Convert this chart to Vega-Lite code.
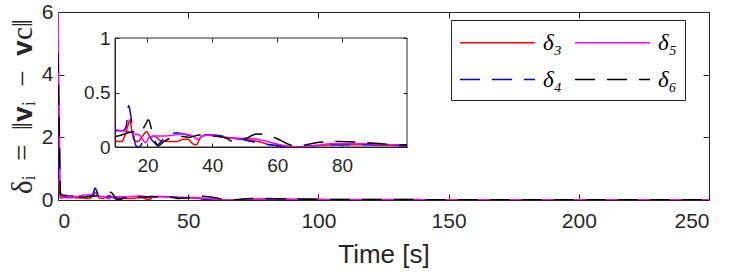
{
  "$schema": "https://vega.github.io/schema/vega-lite/v6.json",
  "width": 651,
  "height": 188,
  "autosize": {"type": "none"},
  "padding": {"left": 58, "top": 12, "right": 22, "bottom": 72},
  "background": "white",
  "config": {
    "view": {"stroke": "#262626", "strokeWidth": 1},
    "axis": {"grid": false, "domainColor": "#262626", "tickColor": "#262626", "labelColor": "#262626", "titleColor": "#262626", "labelFont": "Liberation Sans", "titleFont": "Liberation Sans", "titleFontWeight": "normal"},
    "legend": {"orient": "none", "legendX": 393, "legendY": 8, "columns": 2, "symbolType": "M-1,0H4.556", "symbolSize": 729, "symbolStrokeWidth": 1.5, "labelFont": "Liberation Serif", "labelFontSize": 23, "labelFontStyle": "italic", "labelColor": "black", "strokeColor": "#262626", "fillColor": "white", "padding": 8, "rowPadding": 10, "columnPadding": 10, "labelOffset": 55, "title": null}
  },
  "datasets": {
    "d": [
      {"s": "δ₃", "t": 0, "v": 1.0}, {"s": "δ₃", "t": 0.5, "v": 0.4}, {"s": "δ₃", "t": 1, "v": 0.06}, {"s": "δ₃", "t": 2, "v": 0.08}, {"s": "δ₃", "t": 4, "v": 0.07}, {"s": "δ₃", "t": 6, "v": 0.08}, {"s": "δ₃", "t": 8, "v": 0.06}, {"s": "δ₃", "t": 10, "v": 0.06}, {"s": "δ₃", "t": 11, "v": 0.05}, {"s": "δ₃", "t": 12, "v": 0.05}, {"s": "δ₃", "t": 13, "v": 0.1}, {"s": "δ₃", "t": 14, "v": 0.2}, {"s": "δ₃", "t": 14.6, "v": 0.25}, {"s": "δ₃", "t": 15.2, "v": 0.15}, {"s": "δ₃", "t": 15.8, "v": 0.07}, {"s": "δ₃", "t": 17, "v": 0.05}, {"s": "δ₃", "t": 18.5, "v": 0.1}, {"s": "δ₃", "t": 19.7, "v": 0.14}, {"s": "δ₃", "t": 21, "v": 0.09}, {"s": "δ₃", "t": 22, "v": 0.1}, {"s": "δ₃", "t": 24, "v": 0.06}, {"s": "δ₃", "t": 27, "v": 0.05}, {"s": "δ₃", "t": 29, "v": 0.05}, {"s": "δ₃", "t": 31, "v": 0.07}, {"s": "δ₃", "t": 32.5, "v": 0.07}, {"s": "δ₃", "t": 34, "v": 0.03}, {"s": "δ₃", "t": 35, "v": 0.02}, {"s": "δ₃", "t": 36.5, "v": 0.09}, {"s": "δ₃", "t": 38, "v": 0.11}, {"s": "δ₃", "t": 41, "v": 0.1}, {"s": "δ₃", "t": 44, "v": 0.09}, {"s": "δ₃", "t": 47, "v": 0.08}, {"s": "δ₃", "t": 50, "v": 0.07}, {"s": "δ₃", "t": 54, "v": 0.05}, {"s": "δ₃", "t": 58, "v": 0.02}, {"s": "δ₃", "t": 62, "v": 0.01}, {"s": "δ₃", "t": 66, "v": 0.0}, {"s": "δ₃", "t": 71, "v": 0.01}, {"s": "δ₃", "t": 77, "v": 0.02}, {"s": "δ₃", "t": 87, "v": 0.02}, {"s": "δ₃", "t": 95, "v": 0.015}, {"s": "δ₃", "t": 100, "v": 0.01}, {"s": "δ₃", "t": 150, "v": 0.005}, {"s": "δ₃", "t": 250, "v": 0.0},
      {"s": "δ₄", "t": 0, "v": 1.3}, {"s": "δ₄", "t": 0.5, "v": 0.5}, {"s": "δ₄", "t": 1, "v": 0.1}, {"s": "δ₄", "t": 2, "v": 0.12}, {"s": "δ₄", "t": 4, "v": 0.13}, {"s": "δ₄", "t": 6, "v": 0.12}, {"s": "δ₄", "t": 8, "v": 0.13}, {"s": "δ₄", "t": 10, "v": 0.15}, {"s": "δ₄", "t": 11, "v": 0.15}, {"s": "δ₄", "t": 12.5, "v": 0.15}, {"s": "δ₄", "t": 13.5, "v": 0.2}, {"s": "δ₄", "t": 14.2, "v": 0.38}, {"s": "δ₄", "t": 14.8, "v": 0.3}, {"s": "δ₄", "t": 15.5, "v": 0.15}, {"s": "δ₄", "t": 16.5, "v": 0.01}, {"s": "δ₄", "t": 17.5, "v": 0.0}, {"s": "δ₄", "t": 19, "v": 0.08}, {"s": "δ₄", "t": 20, "v": 0.11}, {"s": "δ₄", "t": 21.5, "v": 0.06}, {"s": "δ₄", "t": 23, "v": 0.02}, {"s": "δ₄", "t": 25, "v": 0.08}, {"s": "δ₄", "t": 27, "v": 0.12}, {"s": "δ₄", "t": 29, "v": 0.13}, {"s": "δ₄", "t": 31, "v": 0.12}, {"s": "δ₄", "t": 34, "v": 0.1}, {"s": "δ₄", "t": 36, "v": 0.08}, {"s": "δ₄", "t": 38, "v": 0.11}, {"s": "δ₄", "t": 40, "v": 0.11}, {"s": "δ₄", "t": 43, "v": 0.1}, {"s": "δ₄", "t": 46, "v": 0.08}, {"s": "δ₄", "t": 49, "v": 0.07}, {"s": "δ₄", "t": 52, "v": 0.05}, {"s": "δ₄", "t": 55, "v": 0.03}, {"s": "δ₄", "t": 58, "v": 0.02}, {"s": "δ₄", "t": 61, "v": 0.01}, {"s": "δ₄", "t": 65, "v": 0.0}, {"s": "δ₄", "t": 70, "v": 0.01}, {"s": "δ₄", "t": 76, "v": 0.02}, {"s": "δ₄", "t": 85, "v": 0.02}, {"s": "δ₄", "t": 95, "v": 0.02}, {"s": "δ₄", "t": 100, "v": 0.01}, {"s": "δ₄", "t": 150, "v": 0.005}, {"s": "δ₄", "t": 250, "v": 0.0},
      {"s": "δ₅", "t": 0, "v": 6.0}, {"s": "δ₅", "t": 0.5, "v": 2.5}, {"s": "δ₅", "t": 1, "v": 0.1}, {"s": "δ₅", "t": 2, "v": 0.1}, {"s": "δ₅", "t": 4, "v": 0.09}, {"s": "δ₅", "t": 6, "v": 0.1}, {"s": "δ₅", "t": 8, "v": 0.12}, {"s": "δ₅", "t": 10, "v": 0.16}, {"s": "δ₅", "t": 12, "v": 0.15}, {"s": "δ₅", "t": 14, "v": 0.14}, {"s": "δ₅", "t": 16, "v": 0.12}, {"s": "δ₅", "t": 17.5, "v": 0.11}, {"s": "δ₅", "t": 18.5, "v": 0.07}, {"s": "δ₅", "t": 19.5, "v": 0.04}, {"s": "δ₅", "t": 20.5, "v": 0.09}, {"s": "δ₅", "t": 22, "v": 0.1}, {"s": "δ₅", "t": 25, "v": 0.1}, {"s": "δ₅", "t": 28, "v": 0.11}, {"s": "δ₅", "t": 31, "v": 0.12}, {"s": "δ₅", "t": 34, "v": 0.1}, {"s": "δ₅", "t": 35.5, "v": 0.07}, {"s": "δ₅", "t": 37, "v": 0.1}, {"s": "δ₅", "t": 40, "v": 0.11}, {"s": "δ₅", "t": 43, "v": 0.09}, {"s": "δ₅", "t": 46, "v": 0.08}, {"s": "δ₅", "t": 50, "v": 0.08}, {"s": "δ₅", "t": 54, "v": 0.07}, {"s": "δ₅", "t": 57, "v": 0.05}, {"s": "δ₅", "t": 61, "v": 0.02}, {"s": "δ₅", "t": 66, "v": 0.0}, {"s": "δ₅", "t": 71, "v": 0.01}, {"s": "δ₅", "t": 77, "v": 0.03}, {"s": "δ₅", "t": 87, "v": 0.03}, {"s": "δ₅", "t": 95, "v": 0.02}, {"s": "δ₅", "t": 100, "v": 0.02}, {"s": "δ₅", "t": 150, "v": 0.01}, {"s": "δ₅", "t": 250, "v": 0.005},
      {"s": "δ₆", "t": 0, "v": 4.7}, {"s": "δ₆", "t": 0.5, "v": 2.0}, {"s": "δ₆", "t": 1, "v": 0.2}, {"s": "δ₆", "t": 2, "v": 0.15}, {"s": "δ₆", "t": 4, "v": 0.14}, {"s": "δ₆", "t": 6, "v": 0.13}, {"s": "δ₆", "t": 8, "v": 0.1}, {"s": "δ₆", "t": 10, "v": 0.095}, {"s": "δ₆", "t": 12, "v": 0.11}, {"s": "δ₆", "t": 14, "v": 0.13}, {"s": "δ₆", "t": 15.6, "v": 0.14}, {"s": "δ₆", "t": 17, "v": 0.12}, {"s": "δ₆", "t": 18.5, "v": 0.16}, {"s": "δ₆", "t": 19.3, "v": 0.2}, {"s": "δ₆", "t": 20.3, "v": 0.25}, {"s": "δ₆", "t": 21.6, "v": 0.12}, {"s": "δ₆", "t": 23.3, "v": 0.01}, {"s": "δ₆", "t": 25, "v": 0.05}, {"s": "δ₆", "t": 27, "v": 0.08}, {"s": "δ₆", "t": 30, "v": 0.1}, {"s": "δ₆", "t": 33, "v": 0.09}, {"s": "δ₆", "t": 36, "v": 0.11}, {"s": "δ₆", "t": 41, "v": 0.1}, {"s": "δ₆", "t": 44.4, "v": 0.08}, {"s": "δ₆", "t": 46.4, "v": 0.05}, {"s": "δ₆", "t": 48.5, "v": 0.06}, {"s": "δ₆", "t": 50.5, "v": 0.08}, {"s": "δ₆", "t": 53.6, "v": 0.12}, {"s": "δ₆", "t": 56.7, "v": 0.11}, {"s": "δ₆", "t": 59.7, "v": 0.08}, {"s": "δ₆", "t": 63.8, "v": 0.02}, {"s": "δ₆", "t": 66, "v": 0.0}, {"s": "δ₆", "t": 69, "v": 0.02}, {"s": "δ₆", "t": 72, "v": 0.04}, {"s": "δ₆", "t": 79, "v": 0.05}, {"s": "δ₆", "t": 87, "v": 0.04}, {"s": "δ₆", "t": 97.7, "v": 0.02}, {"s": "δ₆", "t": 100, "v": 0.02}, {"s": "δ₆", "t": 150, "v": 0.01}, {"s": "δ₆", "t": 250, "v": 0.005}
    ]
  },
  "layer": [
    {
      "data": {"name": "d"},
      "mark": {"type": "line", "strokeWidth": 1.5, "interpolate": "monotone", "clip": true},
      "encoding": {
        "x": {"field": "t", "type": "quantitative", "scale": {"domain": [0, 250], "nice": false, "zero": false},
          "axis": {"orient": "bottom", "values": [0, 50, 100, 150, 200, 250], "tickSize": -6, "labelFontSize": 21, "labelPadding": 16, "title": "Time [s]", "titleFontSize": 26, "titleBaseline": "alphabetic", "titleY": 62, "titleX": 325.5, "titleAlign": "center"}},
        "y": {"field": "v", "type": "quantitative", "scale": {"domain": [0, 6], "nice": false},
          "axis": {"orient": "left", "values": [0, 2, 4, 6], "tickSize": -6, "labelFontSize": 21, "labelPadding": 11, "title": "δᵢ\u2002=\u2002‖𝐯ᵢ\u2002−\u2002𝐯c‖", "titleFont": "Liberation Serif", "titleFontSize": 29, "titleAngle": -90, "titleBaseline": "middle", "titleAlign": "center", "titleX": -36, "titleY": 94}},
        "color": {"field": "s", "type": "nominal", "scale": {"domain": ["δ₃", "δ₄", "δ₅", "δ₆"], "range": ["#FF0000", "#0000FF", "#FF00FF", "#000000"]}, "legend": {"title": null, "values": ["δ₃", "δ₄", "δ₅", "δ₆"]}},
        "strokeDash": {"field": "s", "type": "nominal", "scale": {"domain": ["δ₃", "δ₄", "δ₅", "δ₆"], "range": [[1, 0], [20, 12], [1, 0], [20, 12]]}, "legend": {"title": null, "values": ["δ₃", "δ₄", "δ₅", "δ₆"]}}
      }
    },
    {
      "data": {"values": [{}]},
      "mark": {"type": "point", "opacity": 0},
      "encoding": {
        "x": {"datum": 0, "type": "quantitative", "scale": {"domain": [0, 250], "nice": false, "zero": false},
          "axis": {"orient": "top", "values": [0, 50, 100, 150, 200, 250], "labels": false, "domain": false, "tickSize": -6, "title": null}},
        "y": {"datum": 0, "type": "quantitative", "scale": {"domain": [0, 6], "nice": false},
          "axis": {"orient": "right", "values": [0, 2, 4, 6], "labels": false, "domain": false, "tickSize": -6, "title": null}}
      }
    },
    {
      "layer": [
        {
          "data": {"values": [{}]},
          "mark": {"type": "rect", "fill": "white", "stroke": "#262626", "strokeWidth": 1},
          "encoding": {
            "x": {"datum": 10, "type": "quantitative", "scale": {"domain": [10, 100], "range": [57, 349], "nice": false, "zero": false},
              "axis": {"orient": "bottom", "offset": -53, "values": [20, 40, 60, 80], "tickSize": -4, "labelFontSize": 19, "labelPadding": 13, "title": null, "zindex": 1}},
            "x2": {"datum": 100},
            "y": {"datum": 0, "type": "quantitative", "scale": {"domain": [0, 1], "range": [135, 26], "nice": false, "zero": false},
              "axis": {"orient": "left", "offset": -57, "values": [0, 0.5, 1], "format": "~g", "tickSize": -4, "labelFontSize": 19, "labelPadding": 9, "title": null, "zindex": 1}},
            "y2": {"datum": 1}
          }
        },
        {
          "data": {"name": "d"},
          "transform": [{"filter": "datum.t >= 10 && datum.t <= 100"}],
          "mark": {"type": "line", "strokeWidth": 1.5, "interpolate": "monotone"},
          "encoding": {
            "x": {"field": "t", "type": "quantitative"},
            "y": {"field": "v", "type": "quantitative"},
            "color": {"field": "s", "type": "nominal", "scale": {"domain": ["δ₃", "δ₄", "δ₅", "δ₆"], "range": ["#FF0000", "#0000FF", "#FF00FF", "#000000"]}},
            "strokeDash": {"field": "s", "type": "nominal", "scale": {"domain": ["δ₃", "δ₄", "δ₅", "δ₆"], "range": [[1, 0], [20, 12], [1, 0], [20, 12]]}}
          }
        }
      ]
    },
    {
      "data": {"values": [{}]},
      "mark": {"type": "point", "opacity": 0},
      "encoding": {
        "x": {"datum": 10, "type": "quantitative", "scale": {"domain": [10, 100], "range": [57, 349], "nice": false, "zero": false},
          "axis": {"orient": "top", "offset": -26, "values": [20, 40, 60, 80], "labels": false, "domain": false, "tickSize": -4, "title": null, "zindex": 1}},
        "y": {"datum": 0, "type": "quantitative", "scale": {"domain": [0, 1], "range": [135, 26], "nice": false, "zero": false},
          "axis": {"orient": "right", "offset": -302, "values": [0, 0.5, 1], "labels": false, "domain": false, "tickSize": -4, "title": null, "zindex": 1}}
      }
    }
  ],
  "resolve": {"scale": {"x": "independent", "y": "independent"}, "axis": {"x": "independent", "y": "independent"}}
}
